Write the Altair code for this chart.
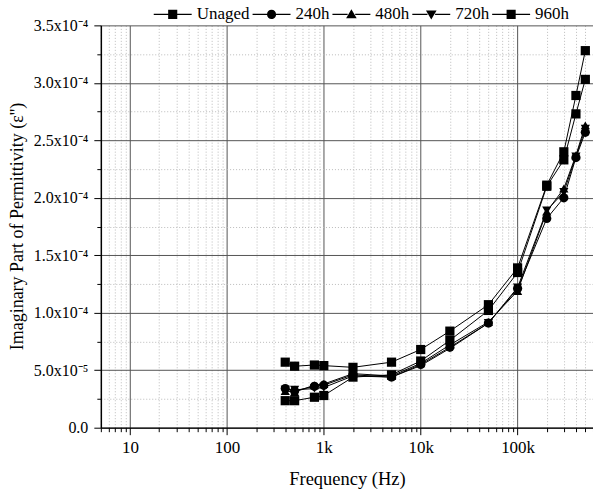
import altair as alt
import pandas as pd

freqs = [400, 500, 800, 1000, 2000, 5000, 10000, 20000, 50000, 100000, 200000, 300000, 400000, 500000]
series_names = ["Unaged", "240h", "480h", "720h", "960h"]
unaged = [5.7, 5.35, 5.45, 5.4, 5.25, 5.7, 6.8, 8.4, 10.7, 13.9, 21.1, 24.0, 28.9, 32.8]
h240 = [3.4, 3.2, 3.6, 3.7, 4.6, 4.4, 5.5, 7.0, 9.1, 12.1, 18.2, 20.0, 23.5, 25.7]
h480 = [3.2, 3.1, 3.7, 3.8, 4.7, 4.5, 5.6, 7.2, 9.2, 11.9, 18.8, 20.8, 23.7, 26.3]
h720 = [3.3, 3.3, 3.4, 3.5, 4.5, 4.4, 5.4, 6.9, 9.1, 12.2, 18.9, 20.5, 23.6, 26.0]
h960 = [2.35, 2.35, 2.65, 2.8, 4.4, 4.6, 5.8, 7.6, 10.2, 13.5, 21.0, 23.3, 27.3, 30.3]
scale_factor = 1e-5  # values above are in units of 1e-5

x_ticks = [5, 6, 7, 8, 9, 10, 20, 30, 40, 50, 60, 70, 80, 90, 100, 200, 300, 400, 500, 600, 700, 800, 900,
           1000, 2000, 3000, 4000, 5000, 6000, 7000, 8000, 9000, 10000, 20000, 30000, 40000, 50000, 60000,
           70000, 80000, 90000, 100000, 200000, 300000, 400000, 500000, 600000]
y_ticks = [i * 2.5e-5 for i in range(15)]

rows = []
for name, vals in zip(series_names, [unaged, h240, h480, h720, h960]):
    for i, (f, v) in enumerate(zip(freqs, vals)):
        rows.append({"freq": f, "value": v * scale_factor, "series": name, "idx": i})
df = pd.DataFrame(rows)

FONT = "Liberation Serif"

x_major = "indexof([10,100,1000,10000,100000], datum.value) >= 0"
y_major = "abs(datum.value/0.00005 - round(datum.value/0.00005)) < 0.000001"

x_enc = alt.X(
    "freq:Q",
    scale=alt.Scale(type="log", domain=[5, 600000], nice=False),
    axis=alt.Axis(
        values=x_ticks,
        title="Frequency (Hz)",
        labelExpr="datum.value==10?'10':datum.value==100?'100':datum.value==1000?'1k':datum.value==10000?'10k':datum.value==100000?'100k':''",
        labelFont=FONT, labelFontSize=17, labelColor="black", labelPadding=5,
        titleFont=FONT, titleFontSize=18.5, titleFontWeight="normal", titleColor="black", titlePadding=14,
        domainColor="black", domainWidth=1.2,
        tickColor="black",
        tickSize={"condition": {"test": x_major, "value": 7}, "value": 4},
        gridColor={"condition": {"test": x_major, "value": "#555555"}, "value": "#bbbbbb"},
        gridDash={"condition": {"test": x_major, "value": []}, "value": [1, 2]},
        gridWidth=1,
        labelOverlap=False,
        labelFlush=False,
    ),
)

y_enc = alt.Y(
    "value:Q",
    scale=alt.Scale(domain=[0, 0.00035], nice=False, zero=True),
    axis=alt.Axis(
        values=y_ticks,
        title="Imaginary Part of Permittivity (ε'')",
        labelExpr="datum.value == 0 ? '0.0' : (abs(datum.value/0.00005 - round(datum.value/0.00005)) < 0.000001 ? (datum.value < 0.00009 ? format(datum.value*100000, '.1f') + 'x10⁻⁵' : format(datum.value*10000, '.1f') + 'x10⁻⁴') : '')",
        labelFont=FONT, labelFontSize=16, labelColor="black", labelPadding=6,
        titleFont=FONT, titleFontSize=18, titleFontWeight="normal", titleColor="black",
        titleX=-83, titleY=201, titleBaseline="middle", titleAngle=-90, titleAnchor="middle",
        domainColor="black", domainWidth=1.5,
        tickColor="black",
        tickSize={"condition": {"test": y_major, "value": 7}, "value": 4},
        gridColor={"condition": {"test": y_major, "value": "#555555"}, "value": "#bbbbbb"},
        gridDash={"condition": {"test": y_major, "value": []}, "value": [1, 2]},
        gridWidth=1,
        labelOverlap=False,
        labelFlush=False,
    ),
)

lines = alt.Chart(df).mark_line(color="black", strokeWidth=1).encode(
    x=x_enc, y=y_enc, detail="series:N", order="idx:Q"
)

points = alt.Chart(df).mark_point(filled=True, color="black", opacity=1, size=85).encode(
    x=x_enc, y=y_enc,
    shape=alt.Shape("series:N",
                    scale=alt.Scale(domain=series_names,
                                    range=["square", "circle", "triangle-up", "triangle-down", "square"]),
                    legend=None),
)

# legend glyphs: a short line with the marker in the middle (lines drawn as thin filled bars)
bar = "M-1,-0.028H-0.2V0.028H-1Z M0.2,-0.028H1V0.028H0.2Z "
legend_shapes = [
    bar + "M-0.24,-0.24H0.24V0.24H-0.24Z",
    bar + "M0.24,0A0.24,0.24,0,1,1,-0.24,0A0.24,0.24,0,1,1,0.24,0Z",
    bar + "M0,-0.27L0.28,0.2L-0.28,0.2Z",
    bar + "M0,0.27L0.28,-0.2L-0.28,-0.2Z",
    bar + "M-0.24,-0.24H0.24V0.24H-0.24Z",
]

legend_layer = alt.Chart(df).mark_point(
    filled=True, color="black", opacity=0
).encode(
    x=x_enc, y=y_enc,
    shape=alt.Shape("series:N",
                    scale=alt.Scale(domain=series_names, range=legend_shapes),
                    legend=alt.Legend(
                        title=None, orient="none", direction="horizontal",
                        legendX=53, legendY=-30,
                        symbolSize=1444, symbolFillColor="black", symbolStrokeColor="black",
                        symbolStrokeWidth=0, symbolOpacity=1,
                        labelFont=FONT, labelFontSize=17, labelColor="black",
                        labelOffset=5, columnPadding=3, padding=0,
                    )),
)

chart = alt.layer(lines, points, legend_layer).resolve_scale(shape="independent").properties(
    width=493, height=403,
    autosize=alt.AutoSizeParams(type="none"),
    padding={"left": 101, "top": 25, "right": 0, "bottom": 62},
    background="white",
).configure_view(stroke=None)

chart.save("out.html", embed_options={"renderer": "svg", "actions": False})
